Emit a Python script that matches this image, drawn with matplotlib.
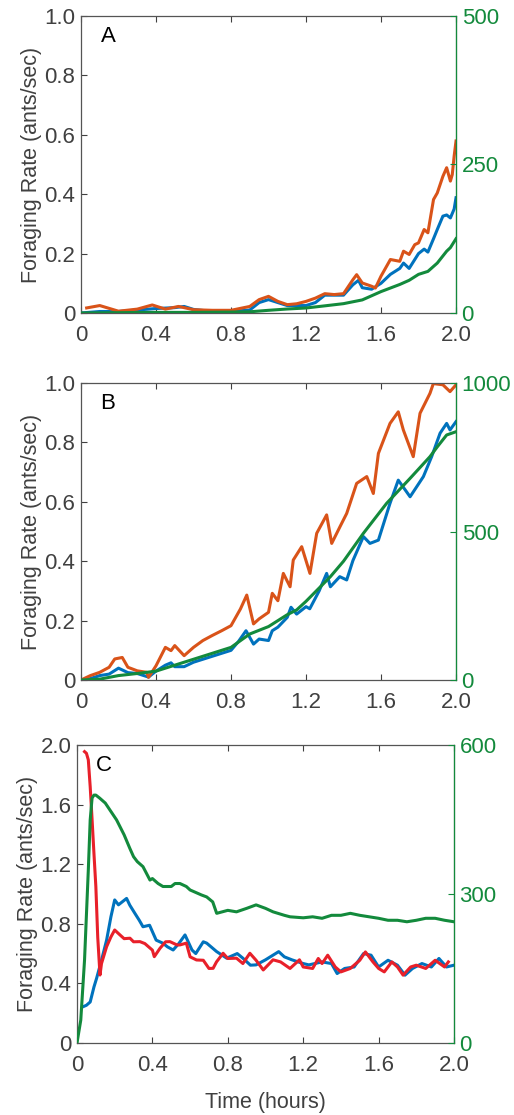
import matplotlib
matplotlib.use('Agg')
import matplotlib.pyplot as plt

plt.rcParams['font.family'] = ['Liberation Sans', 'DejaVu Sans']

BLUE = '#0072BD'
ORANGE = '#D95319'
GREEN = '#138A3C'
RED = '#E8202A'
GREY = '#404040'

# Panel A: foraging rate (left) and ants outside (right)
tA_orange = [0.03, 0.1, 0.2, 0.3, 0.38, 0.45, 0.52, 0.6, 0.7, 0.8, 0.9, 0.95, 1.0, 1.05, 1.1,
             1.15, 1.2, 1.25, 1.3, 1.35, 1.4, 1.45, 1.47, 1.5, 1.55, 1.57, 1.6, 1.65, 1.7, 1.72,
             1.75, 1.78, 1.8, 1.83, 1.85, 1.88, 1.9, 1.93, 1.95, 1.97, 1.98, 1.99, 2.0]
rateA_orange = [0.017, 0.025, 0.006, 0.013, 0.027, 0.013, 0.022, 0.011, 0.009, 0.009, 0.022,
                0.045, 0.056, 0.039, 0.028, 0.031, 0.039, 0.05, 0.065, 0.062, 0.065, 0.112,
                0.129, 0.101, 0.09, 0.084, 0.124, 0.18, 0.174, 0.208, 0.197, 0.23, 0.236, 0.281,
                0.27, 0.382, 0.404, 0.46, 0.489, 0.444, 0.466, 0.528, 0.579]
tA_blue = [0.0, 0.1, 0.2, 0.3, 0.4, 0.5, 0.55, 0.6, 0.7, 0.8, 0.9, 0.95, 1.0, 1.05, 1.1, 1.2,
           1.25, 1.3, 1.4, 1.45, 1.48, 1.5, 1.55, 1.6, 1.65, 1.7, 1.72, 1.75, 1.8, 1.83, 1.85,
           1.88, 1.9, 1.93, 1.95, 1.97, 1.99, 2.0]
rateA_blue = [0.0, 0.005, 0.005, 0.01, 0.015, 0.018, 0.022, 0.012, 0.005, 0.005, 0.01, 0.035,
              0.045, 0.035, 0.025, 0.025, 0.035, 0.06, 0.06, 0.095, 0.11, 0.085, 0.08, 0.1,
              0.13, 0.15, 0.168, 0.15, 0.2, 0.215, 0.205, 0.25, 0.281, 0.326, 0.33, 0.32, 0.35,
              0.388]
tA_green = [0.0, 0.2, 0.4, 0.6, 0.8, 0.9, 1.0, 1.1, 1.2, 1.3, 1.4, 1.5, 1.6, 1.7, 1.75, 1.8,
            1.85, 1.9, 1.95, 1.97, 2.0]
antsA = [0, 0.5, 1, 1, 1.5, 2, 4.5, 6.7, 8.4, 12, 15.7, 22, 36, 48, 55, 65, 70, 84, 104, 110,
         125]

# Panel B
tB_orange = [0.0, 0.05, 0.1, 0.15, 0.18, 0.22, 0.25, 0.3, 0.35, 0.36, 0.4, 0.45, 0.48, 0.5,
             0.55, 0.6, 0.65, 0.7, 0.75, 0.8, 0.85, 0.884, 0.92, 0.95, 1.0, 1.02, 1.05, 1.079,
             1.115, 1.132, 1.177, 1.221, 1.257, 1.31, 1.337, 1.381, 1.417, 1.47, 1.524, 1.559,
             1.586, 1.648, 1.692, 1.719, 1.772, 1.808, 1.861, 1.879, 1.93, 1.968, 2.0]
rateB_orange = [0.0, 0.015, 0.026, 0.043, 0.071, 0.076, 0.043, 0.031, 0.026, 0.009, 0.048,
                0.11, 0.099, 0.116, 0.082, 0.11, 0.133, 0.15, 0.166, 0.183, 0.239, 0.286,
                0.189, 0.206, 0.228, 0.292, 0.267, 0.359, 0.314, 0.404, 0.449, 0.359, 0.494,
                0.556, 0.46, 0.516, 0.561, 0.662, 0.685, 0.628, 0.763, 0.864, 0.903, 0.842,
                0.752, 0.898, 0.965, 0.998, 0.994, 0.971, 0.994]
tB_blue = [0.0, 0.05, 0.1, 0.15, 0.2, 0.25, 0.3, 0.36, 0.4, 0.45, 0.48, 0.5, 0.55, 0.6, 0.7,
           0.8, 0.84, 0.88, 0.92, 0.95, 1.0, 1.02, 1.05, 1.1, 1.12, 1.15, 1.2, 1.22, 1.27, 1.31,
           1.33, 1.38, 1.417, 1.45, 1.506, 1.541, 1.586, 1.648, 1.692, 1.755, 1.826, 1.87,
           1.915, 1.95, 1.968, 2.0]
rateB_blue = [0.0, 0.005, 0.015, 0.02, 0.04, 0.025, 0.022, 0.01, 0.03, 0.05, 0.058, 0.045,
              0.045, 0.06, 0.08, 0.1, 0.13, 0.166, 0.121, 0.138, 0.133, 0.166, 0.178, 0.211,
              0.245, 0.222, 0.247, 0.24, 0.3, 0.359, 0.314, 0.348, 0.337, 0.402, 0.483, 0.46,
              0.471, 0.595, 0.673, 0.617, 0.685, 0.752, 0.831, 0.864, 0.842, 0.87]
tB_green = [0.0, 0.1, 0.2, 0.3, 0.4, 0.5, 0.6, 0.7, 0.8, 0.9, 1.0, 1.1, 1.15, 1.2, 1.33, 1.4,
            1.506, 1.63, 1.755, 1.8, 1.861, 1.9, 1.95, 2.0]
antsB = [0, 3, 15, 22, 30, 50, 70, 90, 110, 155, 180, 220, 236, 265, 348, 400, 494, 595, 679,
         710, 752, 785, 825, 836]

# Panel C
tC_red = [0.04, 0.05, 0.06, 0.07, 0.08, 0.09, 0.1, 0.11, 0.122, 0.13, 0.157, 0.18, 0.2, 0.228,
          0.25, 0.281, 0.3, 0.334, 0.36, 0.4, 0.41, 0.44, 0.47, 0.493, 0.53, 0.546, 0.58, 0.6,
          0.634, 0.67, 0.7, 0.722, 0.74, 0.775, 0.8, 0.846, 0.88, 0.917, 0.95, 0.988, 1.04,
          1.08, 1.13, 1.18, 1.2, 1.25, 1.28, 1.3, 1.33, 1.37, 1.4, 1.45, 1.5, 1.53, 1.57, 1.6,
          1.63, 1.67, 1.7, 1.73, 1.77, 1.8, 1.85, 1.9, 1.95, 1.97]
rateC_red = [1.955, 1.944, 1.9, 1.72, 1.5, 1.27, 1.05, 0.71, 0.456, 0.533, 0.646, 0.712, 0.758,
             0.725, 0.7, 0.703, 0.679, 0.68, 0.667, 0.623, 0.579, 0.635, 0.679, 0.68, 0.658,
             0.658, 0.67, 0.578, 0.557, 0.555, 0.5, 0.501, 0.544, 0.602, 0.567, 0.569, 0.533,
             0.602, 0.555, 0.49, 0.558, 0.544, 0.5, 0.558, 0.51, 0.5, 0.567, 0.533, 0.589,
             0.51, 0.477, 0.5, 0.555, 0.611, 0.544, 0.5, 0.477, 0.544, 0.51, 0.455, 0.51,
             0.522, 0.5, 0.555, 0.51, 0.544]
tC_blue = [0.03, 0.05, 0.07, 0.09, 0.104, 0.13, 0.157, 0.18, 0.2, 0.22, 0.24, 0.263, 0.28,
           0.307, 0.33, 0.35, 0.385, 0.42, 0.455, 0.48, 0.51, 0.54, 0.573, 0.61, 0.63, 0.67,
           0.688, 0.741, 0.794, 0.85, 0.88, 0.92, 0.95, 1.0, 1.07, 1.1, 1.14, 1.2, 1.23, 1.3,
           1.35, 1.38, 1.42, 1.47, 1.52, 1.56, 1.6, 1.65, 1.7, 1.74, 1.78, 1.83, 1.88, 1.92,
           1.96, 2.0]
rateC_blue = [0.242, 0.253, 0.275, 0.376, 0.434, 0.555, 0.69, 0.847, 0.96, 0.927, 0.947, 0.97,
              0.925, 0.87, 0.824, 0.78, 0.79, 0.69, 0.67, 0.645, 0.624, 0.667, 0.725, 0.624,
              0.6, 0.679, 0.67, 0.613, 0.569, 0.6, 0.569, 0.522, 0.524, 0.558, 0.613, 0.578,
              0.558, 0.533, 0.524, 0.544, 0.533, 0.466, 0.5, 0.51, 0.6, 0.589, 0.51, 0.555,
              0.522, 0.455, 0.5, 0.533, 0.51, 0.567, 0.51, 0.522]
tC_green = [0.0, 0.02, 0.04, 0.06, 0.07, 0.08, 0.09, 0.1, 0.12, 0.15, 0.18, 0.21, 0.25, 0.28,
            0.3, 0.32, 0.35, 0.387, 0.4, 0.43, 0.456, 0.5, 0.52, 0.546, 0.58, 0.6, 0.66, 0.688,
            0.72, 0.741, 0.8, 0.846, 0.9, 0.95, 1.0, 1.04, 1.1, 1.13, 1.2, 1.25, 1.3, 1.35, 1.4,
            1.45, 1.5, 1.55, 1.6, 1.65, 1.7, 1.75, 1.8, 1.85, 1.9, 1.95, 2.0]
antsC = [0, 46, 167, 348, 449, 493, 499, 499, 493, 483, 466, 449, 419, 392, 375, 365, 355,
         328, 331, 321, 315, 315, 321, 321, 315, 308, 298, 294, 284, 261, 267, 264, 271, 278,
         271, 264, 257, 254, 252, 254, 251, 257, 257, 261, 257, 254, 251, 247, 247, 244, 247,
         251, 251, 247, 244]

x_ticks = [0, 0.4, 0.8, 1.2, 1.6, 2.0]
x_labels = ['0', '0.4', '0.8', '1.2', '1.6', '2.0']

panels = [
    dict(letter='A', rect=[0.1576, 0.7193, 0.7296, 0.2664],
         lines=[(tA_blue, rateA_blue, BLUE), (tA_orange, rateA_orange, ORANGE)],
         ants=(tA_green, antsA),
         yticks=[0, 0.2, 0.4, 0.6, 0.8, 1.0], ylabels=['0', '0.2', '0.4', '0.6', '0.8', '1.0'],
         ymax=1.0, rticks=[0, 250, 500], rmax=500),
    dict(letter='B', rect=[0.1576, 0.3901, 0.7296, 0.2664],
         lines=[(tB_blue, rateB_blue, BLUE), (tB_orange, rateB_orange, ORANGE)],
         ants=(tB_green, antsB),
         yticks=[0, 0.2, 0.4, 0.6, 0.8, 1.0], ylabels=['0', '0.2', '0.4', '0.6', '0.8', '1.0'],
         ymax=1.0, rticks=[0, 500, 1000], rmax=1000),
    dict(letter='C', rect=[0.1498, 0.0646, 0.7335, 0.2673],
         lines=[(tC_blue, rateC_blue, BLUE), (tC_red, rateC_red, RED)],
         ants=(tC_green, antsC),
         yticks=[0, 0.4, 0.8, 1.2, 1.6, 2.0], ylabels=['0', '0.4', '0.8', '1.2', '1.6', '2.0'],
         ymax=2.0, rticks=[0, 300, 600], rmax=600),
]

fig = plt.figure(figsize=(5.14, 11.15), dpi=100)

for p in panels:
    ax = fig.add_axes(p['rect'])
    for t, v, c in p['lines']:
        ax.plot(t, v, color=c, lw=2.2, solid_joinstyle='round')
    ax.set_xlim(0, 2.0)
    ax.set_ylim(0, p['ymax'])
    ax.set_xticks(x_ticks, x_labels)
    ax.set_yticks(p['yticks'], p['ylabels'])
    ax.tick_params(direction='in', length=4, width=0.8, colors=GREY, labelsize=16,
                   top=True, pad=4)
    ax.tick_params(axis='x', pad=8.5)
    for side in ['left', 'top', 'bottom']:
        ax.spines[side].set_color('#555555')
        ax.spines[side].set_linewidth(0.9)
    ax.set_ylabel('Foraging Rate (ants/sec)', fontsize=15.5, color=GREY, labelpad=2)
    ax.text(0.072, 0.93, p['letter'], transform=ax.transAxes, fontsize=16,
            ha='center', va='center', color='black')

    rax = ax.twinx()
    rax.plot(p['ants'][0], p['ants'][1], color=GREEN, lw=2.2, solid_joinstyle='round')
    rax.set_ylim(0, p['rmax'])
    rax.set_yticks(p['rticks'], [str(r) for r in p['rticks']])
    rax.tick_params(direction='in', length=4, width=0.8, colors=GREEN, labelsize=16, pad=4)
    rax.spines['right'].set_color(GREEN)
    rax.spines['right'].set_linewidth(0.9)
    for side in ['left', 'top', 'bottom']:
        rax.spines[side].set_visible(False)

ax.set_xlabel('Time (hours)', fontsize=15.5, color=GREY, labelpad=12)

fig.savefig('out.png', dpi=100)
